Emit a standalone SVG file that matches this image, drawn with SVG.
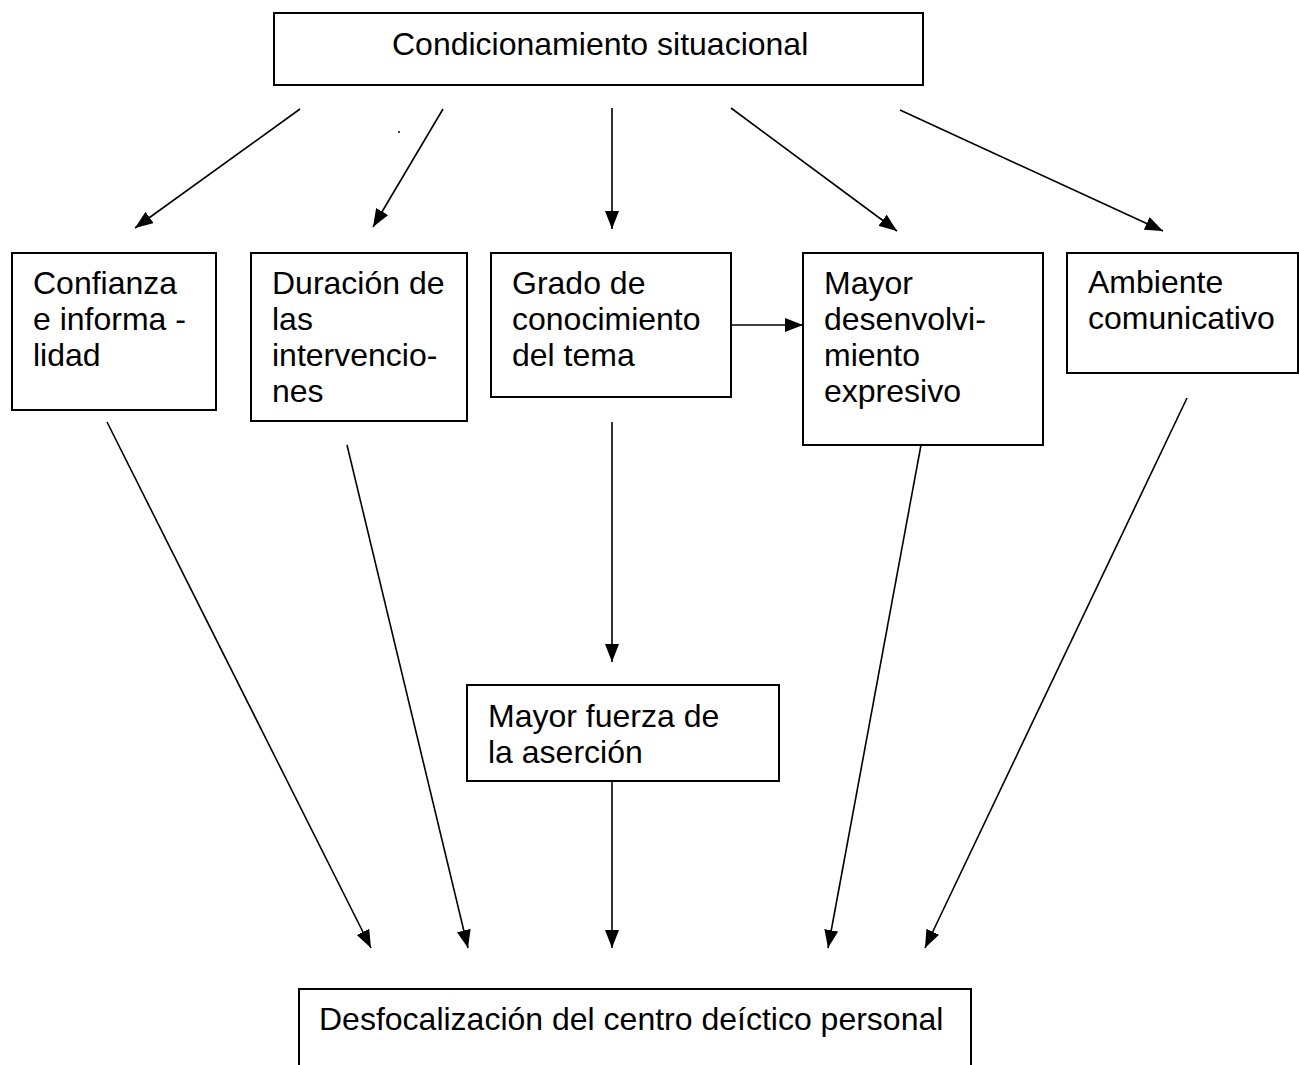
<svg xmlns="http://www.w3.org/2000/svg" width="1299" height="1065" viewBox="0 0 1299 1065">
<style>
.box{fill:#fff;stroke:#000;stroke-width:2}
.t{font-family:"Liberation Sans",Arial,sans-serif;font-size:32px;fill:#000}
.c{stroke:#000;stroke-width:1.6;fill:none;marker-end:url(#ah)}
</style>
<defs>
<marker id="ah" markerUnits="userSpaceOnUse" markerWidth="20" markerHeight="14" refX="18" refY="7" orient="auto">
<path d="M0,0 L18,7 L0,14 z" fill="#000"/>
</marker>
</defs>
<rect width="1299" height="1065" fill="#fff"/>
<g id="n-condicionamiento">
<rect class="box" x="274" y="13" width="649" height="72"/>
<text class="t" x="392" y="55">Condicionamiento situacional</text>
</g>
<g id="n-confianza">
<rect class="box" x="12" y="253" width="204" height="157"/>
<text class="t" x="33" y="294">Confianza</text>
<text class="t" x="33" y="330">e informa -</text>
<text class="t" x="33" y="366">lidad</text>
</g>
<g id="n-duracion">
<rect class="box" x="251" y="253" width="216" height="168"/>
<text class="t" x="272" y="294">Duración de</text>
<text class="t" x="272" y="330">las</text>
<text class="t" x="272" y="366">intervencio-</text>
<text class="t" x="272" y="402">nes</text>
</g>
<g id="n-grado">
<rect class="box" x="491" y="253" width="240" height="144"/>
<text class="t" x="512" y="294">Grado de</text>
<text class="t" x="512" y="330">conocimiento</text>
<text class="t" x="512" y="366">del tema</text>
</g>
<g id="n-desenvolvimiento">
<rect class="box" x="803" y="253" width="240" height="192"/>
<text class="t" x="824" y="294">Mayor</text>
<text class="t" x="824" y="330">desenvolvi-</text>
<text class="t" x="824" y="366">miento</text>
<text class="t" x="824" y="402">expresivo</text>
</g>
<g id="n-ambiente">
<rect class="box" x="1067" y="253" width="231" height="120"/>
<text class="t" x="1088" y="293">Ambiente</text>
<text class="t" x="1088" y="329">comunicativo</text>
</g>
<g id="n-fuerza">
<rect class="box" x="467" y="685" width="312" height="96"/>
<text class="t" x="488" y="727">Mayor fuerza de</text>
<text class="t" x="488" y="763">la aserción</text>
</g>
<g id="n-desfocalizacion">
<rect class="box" x="299" y="989" width="672" height="90"/>
<text class="t" x="319" y="1030">Desfocalización del centro deíctico personal</text>
</g>
<g id="connectors">
<line class="c" x1="300" y1="109" x2="135" y2="228"/>
<line class="c" x1="443" y1="109" x2="373" y2="227"/>
<line class="c" x1="612" y1="108" x2="612" y2="229"/>
<line class="c" x1="731" y1="108" x2="897" y2="231"/>
<line class="c" x1="900" y1="110" x2="1163" y2="231"/>
<line class="c" x1="731" y1="325" x2="803" y2="325"/>
<line class="c" x1="107" y1="422" x2="371" y2="948"/>
<line class="c" x1="347" y1="445" x2="468" y2="948"/>
<line class="c" x1="612" y1="422" x2="612" y2="662"/>
<line class="c" x1="612" y1="781" x2="612" y2="948"/>
<line class="c" x1="921" y1="445" x2="828" y2="948"/>
<line class="c" x1="1187" y1="398" x2="925" y2="948"/>
</g>
<circle cx="399" cy="132" r="1" fill="#000"/>
</svg>
